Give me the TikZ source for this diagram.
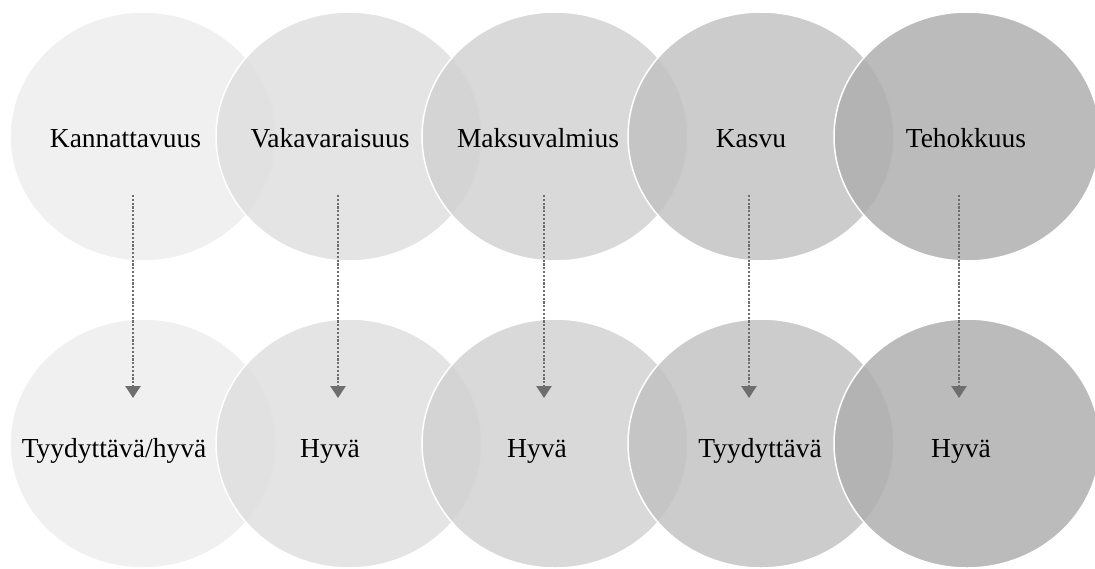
\documentclass[tikz,border=0pt]{standalone}
\usepackage{fontspec}
\setmainfont{Liberation Serif}
\usetikzlibrary{shapes.geometric,arrows.meta}
\definecolor{venna}{RGB}{237,237,237}
\definecolor{vennb}{RGB}{223,223,223}
\definecolor{vennc}{RGB}{210,210,210}
\definecolor{vennd}{RGB}{195,195,195}
\definecolor{venne}{RGB}{175,175,175}
\definecolor{arrowgray}{RGB}{110,110,110}
\tikzset{
  venn/.style={ellipse, minimum width=266pt, minimum height=249pt, inner sep=0pt,
    draw=white, line width=1.5pt, fill opacity=0.85, draw opacity=1},
  lbl/.style={anchor=base, inner sep=0pt, font=\fontsize{27.5}{32}\selectfont, text=black},
  flow/.style={draw=arrowgray, line width=2.5pt, dash pattern=on 2.2pt off 1.6pt,
    -{Triangle[width=15pt,length=12pt]}}
}
\begin{document}
\begin{tikzpicture}[x=1pt,y=-1pt]
            \useasboundingbox (0,0) rectangle (1095,568);
            % top row
            \node[venn, fill=venna] (t1) at (143,136.5) {};
            \node[venn, fill=vennb] (t2) at (349,136.5) {};
            \node[venn, fill=vennc] (t3) at (555,136.5) {};
            \node[venn, fill=vennd] (t4) at (761,136.5) {};
            \node[venn, fill=venne] (t5) at (967,136.5) {};
            % bottom row
            \node[venn, fill=venna] (b1) at (143,443.5) {};
            \node[venn, fill=vennb] (b2) at (349,443.5) {};
            \node[venn, fill=vennc] (b3) at (555,443.5) {};
            \node[venn, fill=vennd] (b4) at (761,443.5) {};
            \node[venn, fill=venne] (b5) at (967,443.5) {};
            % labels
            \node[lbl] (kannattavuus) at (125.5,147) {Kannattavuus};
            \node[lbl] (vakavaraisuus) at (330,147) {Vakavaraisuus};
            \node[lbl] (maksuvalmius) at (538,147) {Maksuvalmius};
            \node[lbl] (kasvu) at (751,147) {Kasvu};
            \node[lbl] (tehokkuus) at (966,147) {Tehokkuus};
            \node[lbl] (tulos1) at (114,457) {Tyydyttävä/hyvä};
            \node[lbl] (tulos2) at (330,457) {Hyvä};
            \node[lbl] (tulos3) at (537,457) {Hyvä};
            \node[lbl] (tulos4) at (760,457) {Tyydyttävä};
            \node[lbl] (tulos5) at (961,457) {Hyvä};
            % arrows
            \coordinate (s1) at (133,195);  \coordinate (e1) at (133,398);
            \coordinate (s2) at (338,195);  \coordinate (e2) at (338,398);
            \coordinate (s3) at (544,195);  \coordinate (e3) at (544,398);
            \coordinate (s4) at (749,195);  \coordinate (e4) at (749,398);
            \coordinate (s5) at (959,195);  \coordinate (e5) at (959,398);
            \draw[flow] (s1) -- (e1);
            \draw[flow] (s2) -- (e2);
            \draw[flow] (s3) -- (e3);
            \draw[flow] (s4) -- (e4);
            \draw[flow] (s5) -- (e5);
        \end{tikzpicture}
\end{document}
